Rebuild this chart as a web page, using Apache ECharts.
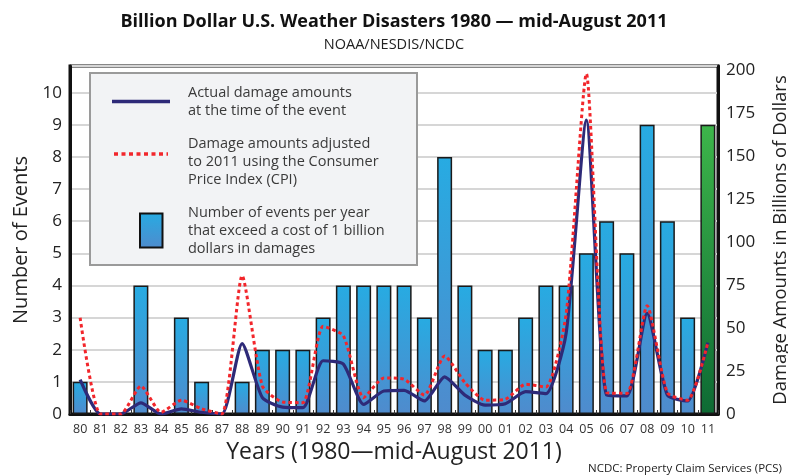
<!DOCTYPE html>
<html>
<head>
<meta charset="utf-8">
<script src="https://cdn.jsdelivr.net/npm/echarts@6/dist/echarts.min.js"></script>
<style>
html,body{margin:0;padding:0;background:#fff;}
#c{width:788px;height:476px;}
</style>
</head>
<body>
<div id="c"></div>
<script>
const years = ['80','81','82','83','84','85','86','87','88','89','90','91','92','93','94','95','96','97','98','99','00','01','02','03','04','05','06','07','08','09','10','11'];
const events = [1,0,0,4,0,3,1,0,1,2,2,2,3,4,4,4,4,3,8,4,2,2,3,4,4,5,6,5,9,6,3,9];
const actualDamage = [20,0,0,6.5,0,3,1,0,41,9.5,4,3.7,31,29,5.6,13.4,13.8,7.6,21.6,11,5.2,6,13,11.8,47,171,11,10.5,58.5,11,7.6,41.6];
const cpiDamage = [56,0,0,16.3,1,8,3,0,80.5,16.3,7,6.6,51,45.5,9.5,21,20.2,11,33.8,18.3,8,8.6,17.3,15.7,58,198,12.4,12,63,12.4,8,41.6];
const leftTicks = [0,1,2,3,4,5,6,7,8,9,10];
const rightTicks = [0,25,50,75,100,125,150,175,200];

const FONT = 'Open Sans';
const chart = echarts.init(document.getElementById('c'));

const blueGrad = new echarts.graphic.LinearGradient(0,0,0,1,[{offset:0,color:'#27ABE2'},{offset:1,color:'#4F8BCD'}]);
const greenGrad = new echarts.graphic.LinearGradient(0,0,0,1,[{offset:0,color:'#3DB54A'},{offset:1,color:'#0E6A34'}]);

const barData = events.map((v,i)=> i === events.length-1
  ? {value:v, itemStyle:{color:greenGrad}}
  : v);

const legendText = (lines, y0) => lines.map((t,k)=>({
  type:'text', left:188, top:y0 + k*18.3, z:101,
  style:{text:t, font:'14.5px "'+FONT+'"', fill:'#3a3a3a'}
}));

chart.setOption({
  animation:false,
  backgroundColor:'#fff',
  title:{
    text:'Billion Dollar U.S. Weather Disasters 1980 — mid-August 2011',
    subtext:'NOAA/NESDIS/NCDC',
    left:'center', top:8, itemGap:6,
    textStyle:{fontFamily:FONT, fontWeight:'bold', fontSize:18, color:'#111'},
    subtextStyle:{fontFamily:FONT, fontSize:14.5, color:'#222'}
  },
  grid:{left:70, right:70, top:66, bottom:62, show:true, borderColor:'#111', borderWidth:3, backgroundColor:'#fff',
    containLabel:false, outerBoundsMode:'none'},
  xAxis:{
    type:'category', data:years,
    name:'Years (1980—mid-August 2011)', nameLocation:'middle', nameGap:25,
    nameTextStyle:{fontFamily:FONT, fontSize:23, color:'#222'},
    axisLine:{lineStyle:{color:'#111', width:3}},
    axisTick:{show:true, inside:true, length:4, lineStyle:{color:'#333'}},
    axisLabel:{fontFamily:FONT, fontSize:12.5, color:'#333', margin:9}
  },
  yAxis:[{
    type:'value', min:0, max:10.83, interval:1,
    name:'Number of Events', nameLocation:'middle', nameGap:37, nameRotate:90,
    nameTextStyle:{fontFamily:FONT, fontSize:20, color:'#222'},
    axisLine:{show:true, lineStyle:{color:'#111', width:3}},
    axisTick:{show:false},
    axisLabel:{fontFamily:FONT, fontSize:17, color:'#222', margin:8, showMaxLabel:false,
      formatter:v=> leftTicks.indexOf(v) >= 0 ? String(v) : ''},
    splitLine:{lineStyle:{color:'#D6D6D6', width:2}}
  },{
    type:'value', min:0, max:202.5, interval:25, position:'right',
    name:'Damage Amounts in Billions of Dollars', nameLocation:'middle', nameGap:53, nameRotate:90,
    nameTextStyle:{fontFamily:FONT, fontSize:18.5, color:'#222'},
    axisLine:{show:true, lineStyle:{color:'#111', width:3}},
    axisTick:{show:false},
    axisLabel:{fontFamily:FONT, fontSize:17, color:'#222', margin:8, showMaxLabel:false,
      formatter:v=> rightTicks.indexOf(v) >= 0 ? String(v) : ''},
    splitLine:{show:false}
  }],
  series:[{
    name:'Events', type:'bar', yAxisIndex:0, data:barData, barCategoryGap:'26%',
    itemStyle:{color:blueGrad, borderColor:'#1a1a1a', borderWidth:1.5}
  },{
    name:'Actual', type:'line', yAxisIndex:1, data:actualDamage, smooth:0.2, symbol:'none',
    lineStyle:{color:'#2E2A78', width:3.2}, z:3
  },{
    name:'CPI', type:'line', yAxisIndex:1, data:cpiDamage, smooth:0.2, symbol:'none',
    lineStyle:{color:'#F2262B', width:3, type:[3.5,3]}, z:4
  }],
  graphic:[
    {type:'rect', shape:{x:90, y:73, width:327, height:192}, z:100,
     style:{fill:'#F2F3F5', stroke:'#9A9A9A', lineWidth:2}},
    {type:'line', shape:{x1:112, y1:101.5, x2:170, y2:101.5}, z:101,
     style:{stroke:'#2E2A78', lineWidth:3.5}},
    {type:'line', shape:{x1:114, y1:154, x2:168, y2:154}, z:101,
     style:{stroke:'#F2262B', lineWidth:3.5, lineDash:[4,3.5]}},
    {type:'rect', shape:{x:140, y:213.5, width:22.5, height:34}, z:101,
     style:{fill:new echarts.graphic.LinearGradient(0,0,0,1,[{offset:0,color:'#27ABE2'},{offset:1,color:'#4F8BCD'}]), stroke:'#111', lineWidth:2}},
    ...legendText(['Actual damage amounts','at the time of the event'], 85),
    ...legendText(['Damage amounts adjusted','to 2011 using the Consumer','Price Index (CPI)'], 136),
    ...legendText(['Number of events per year','that exceed a cost of 1 billion','dollars in damages'], 205),
    {type:'text', right:6, top:463, z:101,
     style:{text:'NCDC: Property Claim Services (PCS)', font:'11.5px "'+FONT+'"', fill:'#222'}}
  ]
});
</script>
</body>
</html>
